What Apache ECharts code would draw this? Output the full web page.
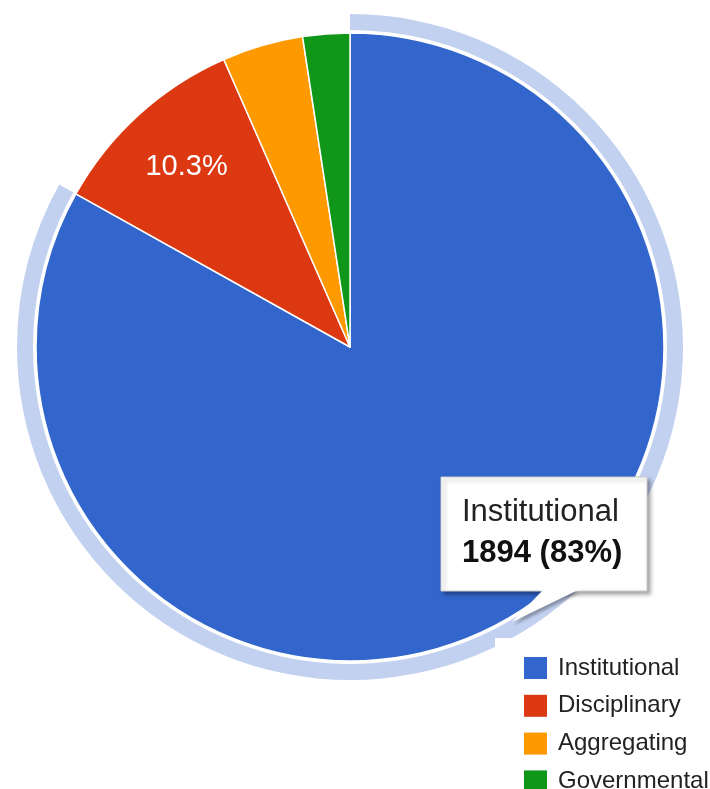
<!DOCTYPE html>
<html>
<head>
<meta charset="utf-8">
<script src="https://cdn.jsdelivr.net/npm/echarts@6/dist/echarts.min.js"></script>
<style>
html,body{margin:0;padding:0;background:#fff;}
#chart{width:710px;height:789px;}
</style>
</head>
<body>
<div id="chart"></div>
<script>
var categories = ['Institutional', 'Disciplinary', 'Aggregating', 'Governmental'];
var values = [1894, 235, 95, 55];
var colors = ['#3366cc', '#dc3912', '#ff9900', '#109618'];
var highlightIndex = 0;
var labelIndex = 1;

var total = values.reduce(function (a, b) { return a + b; }, 0);
var FONT = '"Liberation Sans", Arial, sans-serif';

var mainData = categories.map(function (c, i) {
  return { name: c, value: values[i], itemStyle: { color: colors[i] } };
});
var ringData = categories.map(function (c, i) {
  return { name: c, value: values[i], itemStyle: { color: i === highlightIndex ? '#c2d1f0' : 'rgba(0,0,0,0)' } };
});
var labelData = categories.map(function (c, i) {
  return {
    name: c, value: values[i],
    itemStyle: { color: 'rgba(0,0,0,0)' },
    label: { show: i === labelIndex }
  };
});

var chart = echarts.init(document.getElementById('chart'), null, { renderer: 'canvas' });
var center = [350, 347];

var hlPct = Math.round(values[highlightIndex] / total * 100);

chart.setOption({
  animation: false,
  backgroundColor: '#ffffff',
  legend: {
    orient: 'vertical',
    left: 495,
    top: 638,
    height: 200,
    padding: [18, 20, 0, 29],
    backgroundColor: '#ffffff',
    itemWidth: 23,
    itemHeight: 22,
    itemGap: 13.8,
    icon: 'rect',
    selectedMode: false,
    data: categories.map(function (c, i) {
      return { name: c, itemStyle: { color: colors[i] } };
    }),
    textStyle: {
      fontFamily: FONT,
      fontSize: 24,
      color: '#222222',
      lineHeight: 22,
      padding: [0, 0, 0, 6]
    }
  },
  series: [
    {
      type: 'pie',
      name: 'ring',
      z: 1,
      silent: true,
      center: center,
      radius: [317, 333],
      startAngle: 90,
      clockwise: true,
      label: { show: false },
      labelLine: { show: false },
      itemStyle: { borderWidth: 0 },
      data: ringData
    },
    {
      type: 'pie',
      name: 'main',
      z: 2,
      silent: true,
      center: center,
      radius: [0, 314],
      startAngle: 90,
      clockwise: true,
      label: { show: false },
      labelLine: { show: false },
      itemStyle: { borderColor: '#ffffff', borderWidth: 1.5 },
      data: mainData
    },
    {
      type: 'pie',
      name: 'labels',
      z: 3,
      silent: true,
      center: center,
      radius: [166, 314],
      startAngle: 90,
      clockwise: true,
      avoidLabelOverlap: false,
      labelLine: { show: false },
      itemStyle: { borderWidth: 0 },
      label: {
        show: false,
        position: 'inside',
        color: '#ffffff',
        fontFamily: FONT,
        fontSize: 29,
        formatter: function (p) {
          return (p.value / total * 100).toFixed(1) + '%';
        }
      },
      data: labelData
    }
  ],
  graphic: [
    {
      type: 'rect',
      z: 100,
      shape: { x: 441, y: 477, width: 206, height: 114 },
      style: {
        fill: '#ffffff',
        stroke: '#cccccc',
        lineWidth: 1,
        shadowBlur: 4,
        shadowOffsetX: 3,
        shadowOffsetY: 3,
        shadowColor: 'rgba(0,0,0,0.35)'
      }
    },
    {
      type: 'polygon',
      z: 101,
      shape: { points: [[543, 590], [578, 590], [512, 622]] },
      style: {
        fill: '#ffffff',
        shadowBlur: 3,
        shadowOffsetX: 2,
        shadowOffsetY: 3,
        shadowColor: 'rgba(0,0,0,0.3)'
      }
    },
    {
      type: 'rect',
      z: 102,
      shape: { x: 540, y: 584, width: 40, height: 6.5 },
      style: { fill: '#ffffff' }
    },
    {
      type: 'text',
      z: 103,
      style: {
        x: 462, y: 512,
        text: categories[highlightIndex],
        fontFamily: FONT,
        fontSize: 31,
        fill: '#222222',
        verticalAlign: 'middle'
      }
    },
    {
      type: 'text',
      z: 103,
      style: {
        x: 462, y: 553,
        text: values[highlightIndex] + ' (' + hlPct + '%)',
        fontFamily: FONT,
        fontSize: 31,
        fontWeight: 'bold',
        fill: '#111111',
        verticalAlign: 'middle'
      }
    }
  ]
});
</script>
</body>
</html>
